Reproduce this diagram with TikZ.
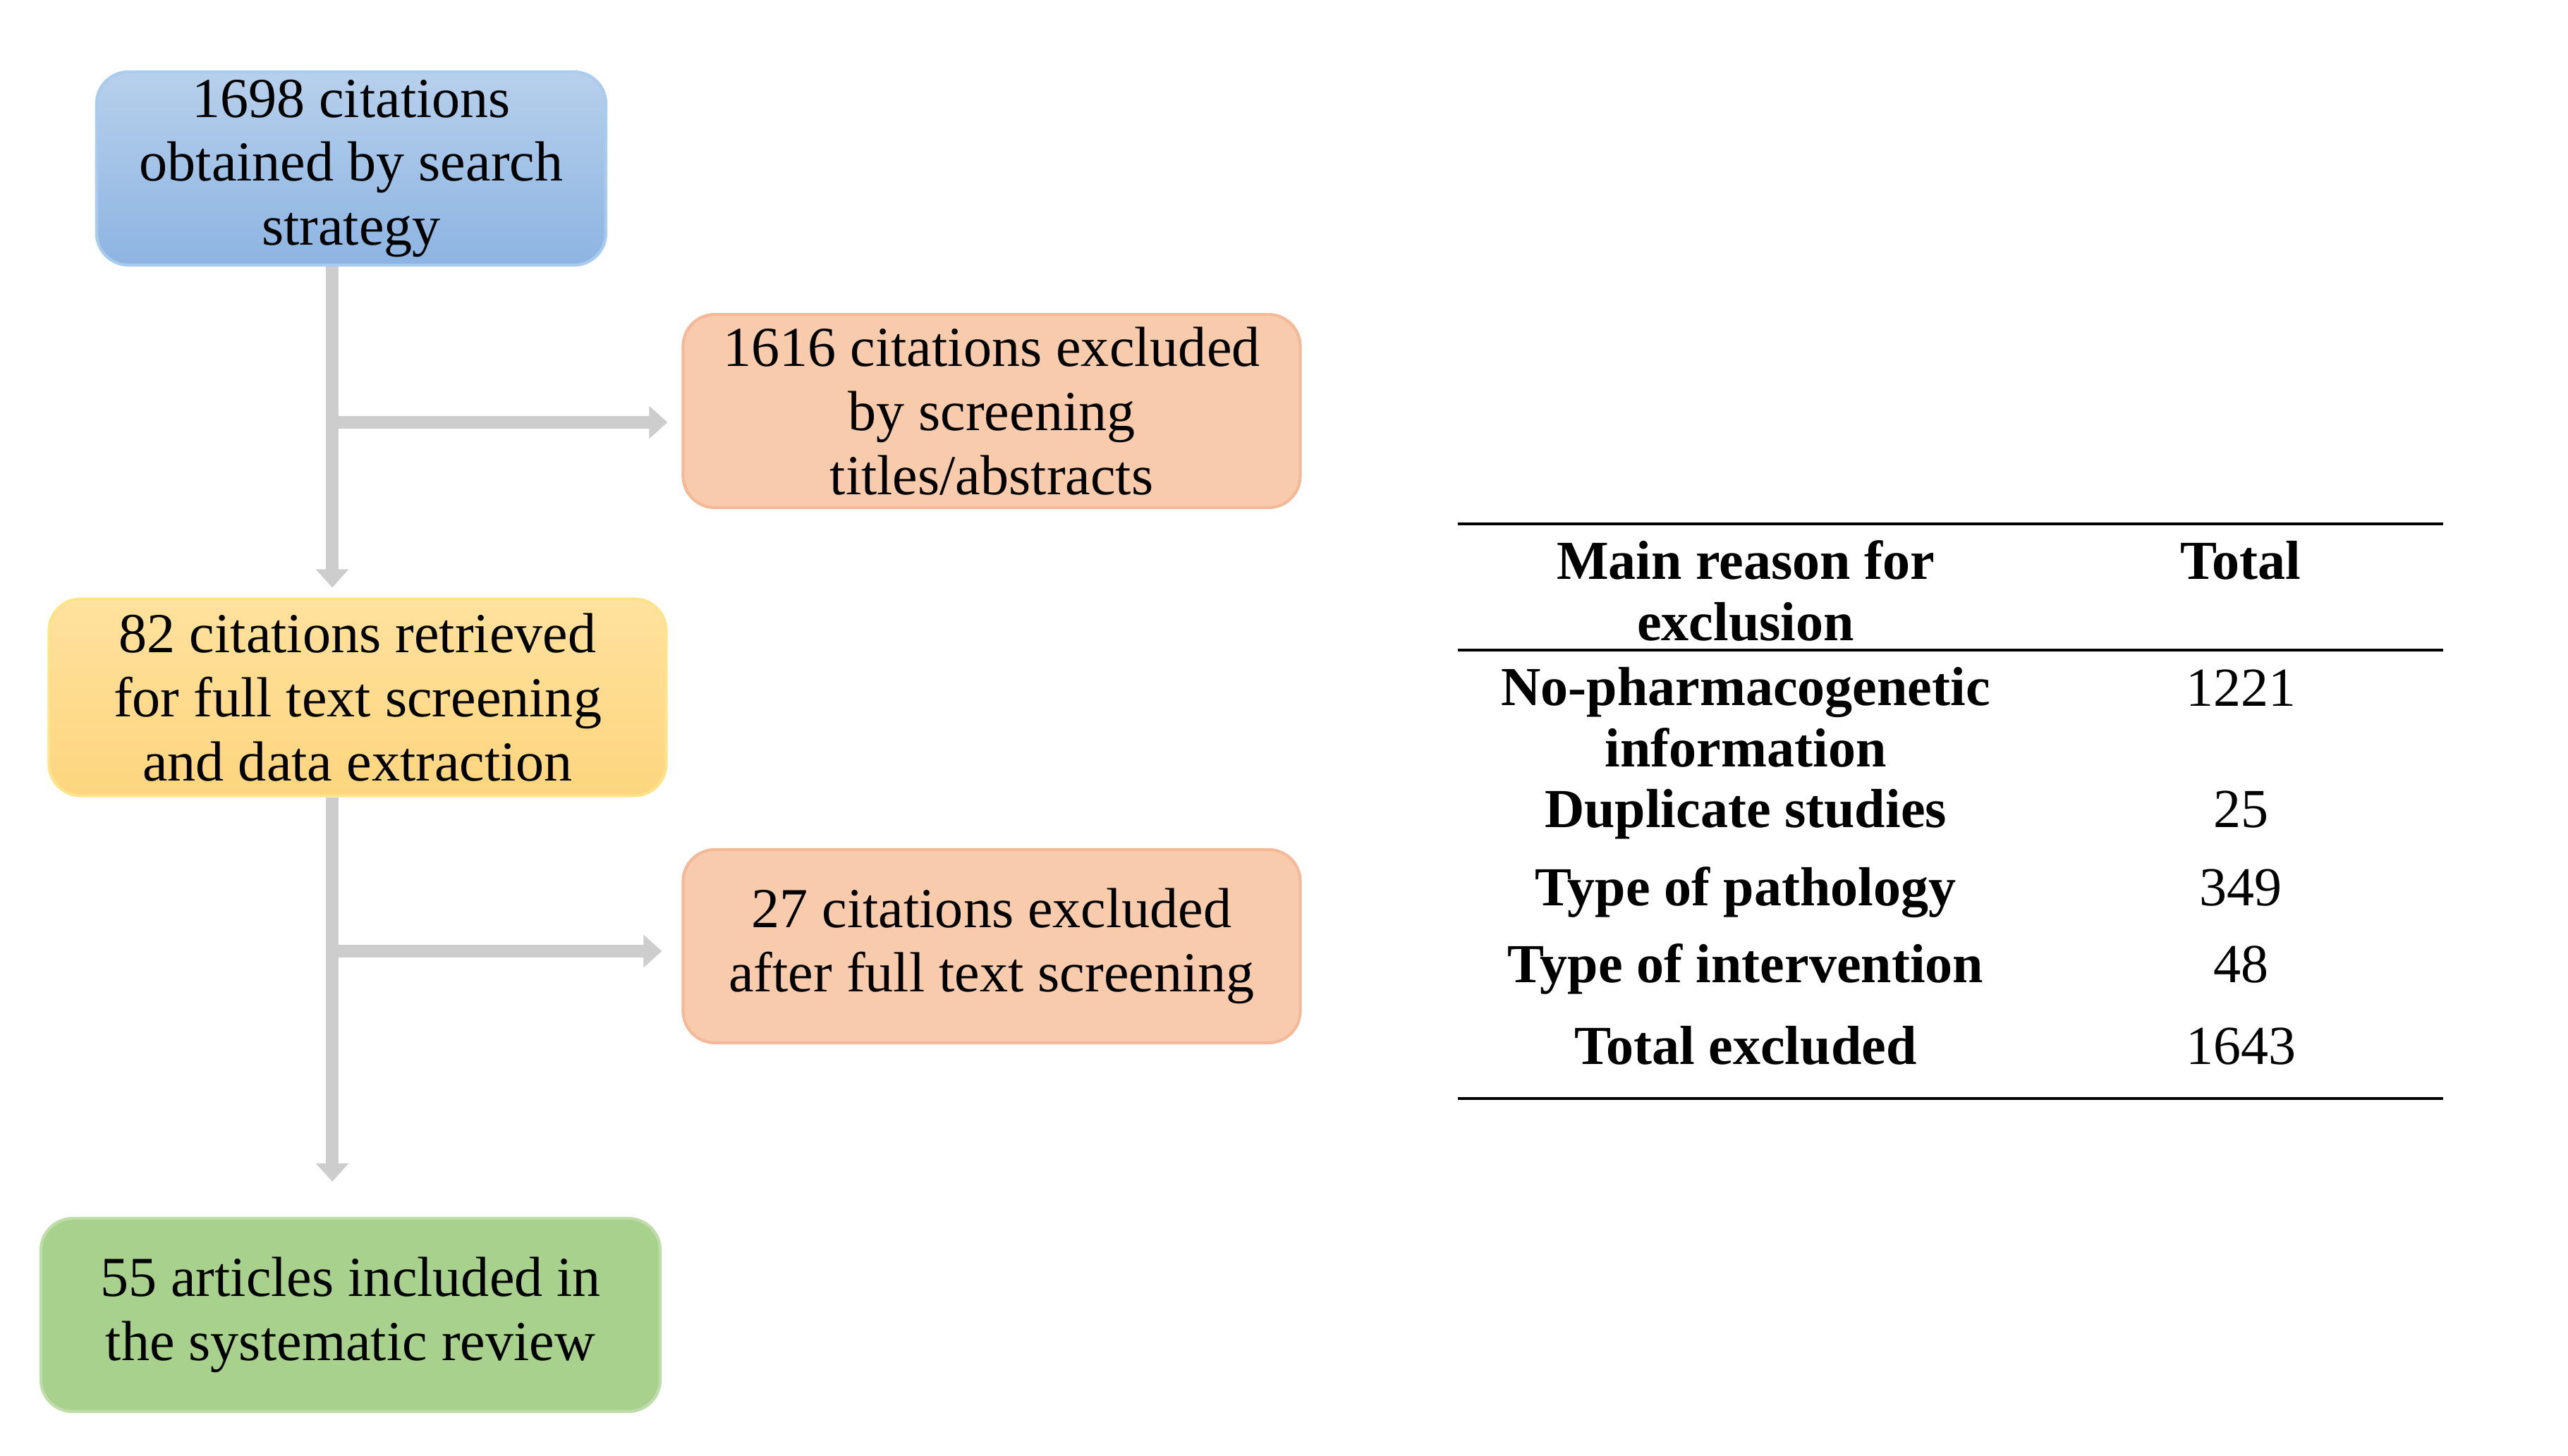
\documentclass[tikz,border=0pt]{standalone}
\usepackage{fontspec}
\setmainfont{Liberation Serif}
\usepackage{tikz}
\usetikzlibrary{positioning,calc,arrows.meta}

\definecolor{blueTop}{HTML}{B7D0EC}
\definecolor{blueBot}{HTML}{8DB4E2}
\definecolor{blueLine}{HTML}{A9CBEE}
\definecolor{orangeFill}{HTML}{F8CBAD}
\definecolor{orangeLine}{HTML}{F4B998}
\definecolor{yellowTop}{HTML}{FFE29E}
\definecolor{yellowBot}{HTML}{FDD57E}
\definecolor{yellowLine}{HTML}{FFE38A}
\definecolor{greenFill}{HTML}{A9D18E}
\definecolor{greenLine}{HTML}{BEDDA9}
\definecolor{flowGray}{HTML}{CDCDCD}

\begin{document}
\begin{tikzpicture}[
    box/.style={rounded corners=0.45cm, line width=1.2pt, align=center,
        minimum height=2.74cm, inner sep=0pt,
        font=\fontsize{22.8}{25.8}\selectfont},
    flow/.style={flowGray, line width=5pt, -{Triangle[width=0.45cm,length=0.26cm]}},
    cell/.style={align=center, inner sep=0pt, font=\bfseries\fontsize{22.2}{24.8}\selectfont},
    num/.style={inner sep=0pt, font=\fontsize{22.2}{24.8}\selectfont},
    rule/.style={line width=1.3pt}
]
    \useasboundingbox (0,0) rectangle (36.41,20.64);

    \node[box, draw=blueLine, top color=blueTop, bottom color=blueBot, minimum width=7.22cm]
        (found) at (4.98,18.25) {1698 citations\\obtained by search\\strategy};
    \node[box, draw=orangeLine, fill=orangeFill, minimum width=8.75cm]
        (excl1) at (14.06,14.81) {1616 citations excluded\\by screening\\titles/abstracts};
    \node[box, draw=yellowLine, top color=yellowTop, bottom color=yellowBot, minimum width=8.75cm, minimum height=2.79cm]
        (retr) at (5.07,10.75) {82 citations retrieved\\for full text screening\\and data extraction};
    \node[box, draw=orangeLine, fill=orangeFill, minimum width=8.75cm]
        (excl2) at (14.06,7.22) {27 citations excluded\\after full text screening};
    \node[box, draw=greenLine, fill=greenFill, minimum width=8.78cm]
        (incl) at (4.97,1.99) {55 articles included in\\the systematic review};

    \coordinate (split1) at (4.71,14.65);
    \coordinate (split2) at (4.71,7.15);

    \draw[flow, shorten >=0.14cm] (found.south -| split1) -- (retr.north -| split1);
    \draw[flow, shorten >=0.2cm] (split1) -- (excl1.west |- split1);
    \draw[flow, shorten >=0.5cm] (retr.south -| split2) -- (incl.north -| split2);
    \draw[flow, shorten >=0.28cm] (split2) -- (excl2.west |- split2);

    \coordinate (tl) at (20.67,13.21);
    \coordinate (tr) at (34.64,13.21);
    \draw[rule] (tl) -- (tr);
    \draw[rule] (20.67,11.42) -- (34.64,11.42);
    \draw[rule] (20.67,5.06) -- (34.64,5.06);

    \node[cell, anchor=north] (hreason) at (24.75,12.98) {Main reason for\\exclusion};
    \node[cell, anchor=base] (htotal) at (31.77,12.42) {Total};
    \node[cell, anchor=north] (rnopg) at (24.75,11.18) {No-pharmacogenetic\\information};
    \node[num, anchor=base] (vnopg) at (31.77,10.62) {1221};
    \node[cell, anchor=base] (rdup) at (24.75,8.90) {Duplicate studies};
    \node[num, anchor=base] (vdup) at (31.77,8.90) {25};
    \node[cell, anchor=base] (rpath) at (24.75,7.79) {Type of pathology};
    \node[num, anchor=base] (vpath) at (31.77,7.79) {349};
    \node[cell, anchor=base] (rint) at (24.75,6.70) {Type of intervention};
    \node[num, anchor=base] (vint) at (31.77,6.70) {48};
    \node[cell, anchor=base] (rtot) at (24.75,5.54) {Total excluded};
    \node[num, anchor=base] (vtot) at (31.77,5.54) {1643};
\end{tikzpicture}
\end{document}
